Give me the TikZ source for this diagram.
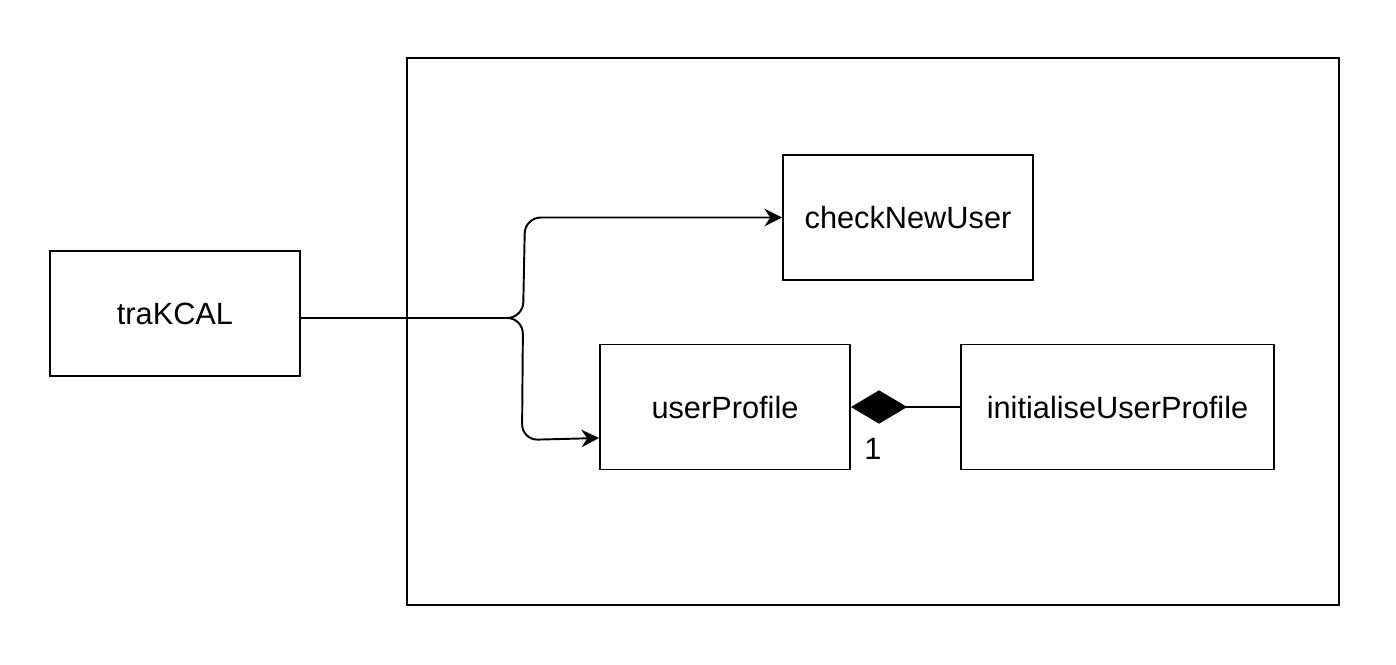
\documentclass[tikz,border=0pt]{standalone}
\usepackage{fontspec}
\setmainfont{Liberation Sans}
\usetikzlibrary{arrows.meta,positioning}

\tikzset{
  block/.style={draw, line width=1.1pt, minimum width=5cm, minimum height=2.5cm,
    font=\fontsize{17.5}{21}\selectfont},
  link/.style={line width=1.1pt, rounded corners=9pt, -{Stealth[length=10pt, width=10pt]}}
}

\begin{document}
\begin{tikzpicture}[x=0.02cm, y=-0.02cm]
  \useasboundingbox (0,0) rectangle (1396,664);
  % outer frame
  \node[draw, line width=1.1pt, minimum width=18.64cm, minimum height=10.94cm] (frame) at (873,331.5) {};
  % blocks
  \node[block] (trakcal) at (175,313.5) {traKCAL};
  \node[block] (checknew) at (908,217.5) {checkNewUser};
  \node[block] (userprof) at (725,407) {userProfile};
  \node[block, minimum width=6.26cm] (inituser) at (1117.5,407) {initialiseUserProfile};
  % branch from traKCAL
  \coordinate (split) at (523,318);
  \draw[link] (trakcal.east |- split) -- (split) -- (525,217.5) -- (checknew.west);
  \draw[link] (trakcal.east |- split) -- (split) -- (522,440) -- (userprof.west |- 0,438);
  % composition
  \draw[line width=1.1pt, -{Diamond[length=32pt, width=19pt]}] (inituser.west) -- (userprof.east);
  \node[font=\fontsize{17.5}{21}\selectfont] (mult) at (873,449) {1};
\end{tikzpicture}
\end{document}
